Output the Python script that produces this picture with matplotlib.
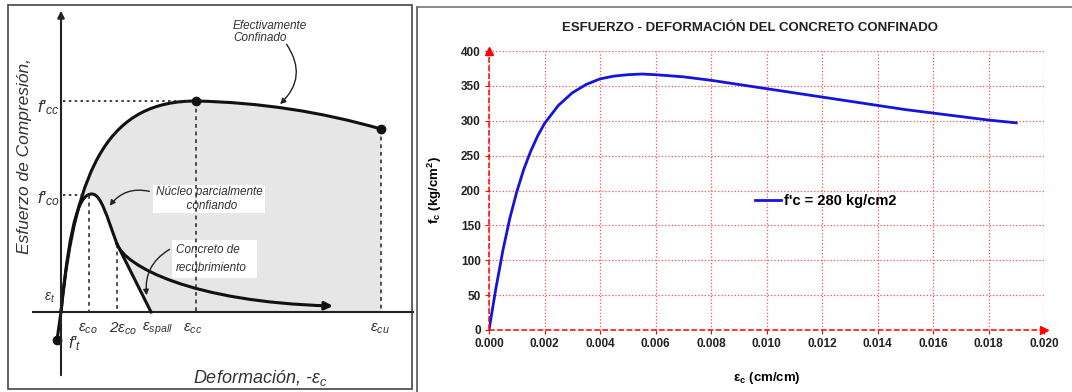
import matplotlib.pyplot as plt
from matplotlib.path import Path
from matplotlib.patches import PathPatch, FancyArrowPatch, Rectangle
from matplotlib.lines import Line2D

plt.rcParams['font.family'] = ['Liberation Sans', 'DejaVu Sans']
plt.rcParams['mathtext.fontset'] = 'custom'
plt.rcParams['mathtext.rm'] = 'Liberation Sans'
plt.rcParams['mathtext.it'] = 'Liberation Sans:italic'
plt.rcParams['mathtext.bf'] = 'Liberation Sans:bold'

# ---- right chart data ----
strain = [0.0, 0.00025, 0.0005, 0.00075, 0.001, 0.00125, 0.0015, 0.00175, 0.002,
          0.0025, 0.003, 0.0035, 0.004, 0.0045, 0.005, 0.0055, 0.006, 0.007, 0.008,
          0.009, 0.010, 0.011, 0.012, 0.013, 0.014, 0.015, 0.016, 0.017, 0.018, 0.019]
stress = [0, 60, 114, 160, 198, 230, 256, 278, 296,
          322, 340, 352, 360, 364, 366, 367, 366, 363, 358,
          352, 346, 340, 334, 328, 322, 316, 311, 306, 301, 297]
x_ticks = [0.000, 0.002, 0.004, 0.006, 0.008, 0.010, 0.012, 0.014, 0.016, 0.018, 0.020]
y_ticks = [0, 50, 100, 150, 200, 250, 300, 350, 400]
series_label = "f'c = 280 kg/cm2"
title = "ESFUERZO - DEFORMACIÓN DEL CONCRETO CONFINADO"

# ---- schematic key points (diagram units, origin at the axes cross) ----
ft_pt = (-4, -28)
fco_pt = (31, 118)
eco_x = 28
two_eco_pt = (56, 68)
spall_pt = (90, 0)
fcc_pt = (135, 211)
ecu_pt = (320, 183)
tail_end = (272, 6)

fig = plt.figure(figsize=(10.72, 3.92), dpi=100)

# ================= left: schematic =================
ax0 = fig.add_axes([0, 0, 418 / 1072, 1])
ax0.set_xlim(-61, 357)
ax0.set_ylim(-80, 312)
ax0.axis('off')

ax0.add_patch(Rectangle((-53, -77), 404, 384, fill=False, ec='#444444', lw=1.2))

M, C4, C3, L = Path.MOVETO, Path.CURVE4, Path.CURVE3, Path.LINETO
fill_verts = [(0, 0), (15, 150), (50, 211), fcc_pt, (230, 209), ecu_pt,
              (ecu_pt[0], 0), spall_pt, two_eco_pt, (46, 95), (40, 118), fco_pt,
              (20, 118), (10, 100), (0, 0), (0, 0)]
fill_codes = [M, C4, C4, C4, C3, C3, L, L, L, C4, C4, C4, C4, C4, C4, Path.CLOSEPOLY]
ax0.add_patch(PathPatch(Path(fill_verts, fill_codes), fc='#e6e6e6', ec='none'))

# axes of the diagram
ax0.plot([-28, 352], [0, 0], color='#222222', lw=1.5)
ax0.annotate('', xy=(0, 304), xytext=(0, -66),
             arrowprops=dict(arrowstyle='-|>', color='#222222', lw=1.5, mutation_scale=10))

# dotted guides
dot = dict(color='#222222', lw=1.2, ls=(0, (1.5, 2)))
ax0.plot([2, fcc_pt[0]], [fcc_pt[1], fcc_pt[1]], **dot)
ax0.plot([2, fco_pt[0]], [117, 117], **dot)
for xv, yv in [(eco_x, 117), (two_eco_pt[0], two_eco_pt[1]), fcc_pt, ecu_pt]:
    ax0.plot([xv, xv], [yv, 0], color='#222222', lw=1.1, ls=(0, (2.5, 2.5)))

# curves
ax0.plot([ft_pt[0], 0], [ft_pt[1], 0], color='#111111', lw=2.2)
conf = Path([(0, 0), (15, 150), (50, 211), fcc_pt, (230, 209), ecu_pt], [M, C4, C4, C4, C3, C3])
ax0.add_patch(PathPatch(conf, fc='none', ec='#111111', lw=2.2))
unconf = Path([(0, 0), (10, 100), (20, 118), fco_pt, (40, 118), (46, 95), two_eco_pt],
              [M, C4, C4, C4, C4, C4, C4])
ax0.add_patch(PathPatch(unconf, fc='none', ec='#111111', lw=2.2))
tail = Path([two_eco_pt, (64, 46), (130, 10), tail_end], [M, C4, C4, C4])
ax0.add_patch(FancyArrowPatch(path=tail, arrowstyle='-|>', color='#111111', lw=2.2,
                              mutation_scale=12))
ax0.plot([two_eco_pt[0], spall_pt[0]], [two_eco_pt[1], spall_pt[1]], color='#111111', lw=2.2)
ax0.plot([fcc_pt[0], ecu_pt[0], ft_pt[0]], [fcc_pt[1], ecu_pt[1], ft_pt[1]],
         'o', color='#111111', ms=6)

# labels
lab = dict(color='#333333', style='italic')
ax0.text(-24, 204, r"f'$_{cc}$", fontsize=12.5, ha='left', va='center', **lab)
ax0.text(-24, 113, r"f'$_{co}$", fontsize=12.5, ha='left', va='center', **lab)
ax0.text(-11, 14, r"ε$_t$", fontsize=10, ha='center', va='center', **lab)
ax0.text(14, -32, r"f'$_t$", fontsize=12, ha='center', va='center', **lab)
for xv, s in [(27, r"ε$_{co}$"), (62, r"2ε$_{co}$"), (97, r"ε$_{spall}$"),
              (132, r"ε$_{cc}$"), (319, r"ε$_{cu}$")]:
    ax0.text(xv, -17, s, fontsize=11, ha='center', va='center', **lab)
ax0.text(199, -66, r"Deformación, -ε$_c$", fontsize=13, ha='center', va='center', **lab)
ax0.text(-36, 156, "Esfuerzo de Compresión,", fontsize=12.5, rotation=90,
         ha='center', va='center', **lab)

ax0.text(172, 280, "Efectivamente\nConfinado", fontsize=8.5, ha='left', va='center',
         linespacing=1.1, **lab)
ax0.add_patch(FancyArrowPatch((224, 270), (217, 206), connectionstyle='arc3,rad=-0.45',
                              arrowstyle='-|>', mutation_scale=8, color='#222222', lw=1))

ax0.add_patch(Rectangle((92, 99), 112, 28, fc='white', ec='none'))
ax0.text(148, 113, "Núcleo parcialmente\n  confiando", fontsize=8.5, ha='center', va='center',
         linespacing=1.3, **lab)
ax0.add_patch(FancyArrowPatch((91, 120), (47, 104), connectionstyle='arc3,rad=0.35',
                              arrowstyle='-|>', mutation_scale=8, color='#222222', lw=1))

ax0.add_patch(Rectangle((111, 34), 85, 38, fc='white', ec='none'))
ax0.text(115, 53, "Concreto de\nrecubrimiento", fontsize=8.5, ha='left', va='center',
         linespacing=1.6, **lab)
ax0.add_patch(FancyArrowPatch((111, 64), (86, 14), connectionstyle='arc3,rad=0.35',
                              arrowstyle='-|>', mutation_scale=8, color='#222222', lw=1))

# panel frame lines on the right
fig.add_artist(Line2D([417 / 1072, 417 / 1072], [0, 385 / 392], color='#555555', lw=1.2))
fig.add_artist(Line2D([417 / 1072, 1], [385 / 392, 385 / 392], color='#777777', lw=1.2))

# ================= right: chart =================
ax = fig.add_axes([489 / 1072, 62 / 392, 555 / 1072, 279 / 392])
ax.plot(strain, stress, color='#1414dc', lw=2, label=series_label)
ax.set_xlim(0, 0.020)
ax.set_ylim(0, 400)
ax.set_xticks(x_ticks)
ax.set_yticks(y_ticks)
ax.set_xticklabels([f"{v:.3f}" for v in x_ticks])
ax.grid(True, color='#ff4d4d', ls=':', lw=0.9)
for s in ax.spines.values():
    s.set_visible(False)
ax.plot([0, 0], [0, 400], color='red', ls='--', lw=1.1, clip_on=False)
ax.plot([0, 0.020], [0, 0], color='red', ls='--', lw=1.1, clip_on=False)
ax.plot([0], [400], marker='^', color='red', ms=6, clip_on=False)
ax.plot([0.020], [0], marker='>', color='red', ms=6, clip_on=False)
ax.tick_params(length=3, color='red', labelsize=8.5, labelcolor='#222222', pad=3)
for t in ax.get_xticklabels() + ax.get_yticklabels():
    t.set_fontweight('bold')
ax.set_xlabel(r"ε$_\mathbf{c}$ (cm/cm)", fontsize=9.5, fontweight='bold', labelpad=14)
ax.set_ylabel(r"f$_\mathbf{c}$ (kg/cm$^\mathbf{2}$)", fontsize=9.5, fontweight='bold', labelpad=12)
ax.legend(loc='center left', bbox_to_anchor=(0.455, 0.462), frameon=False,
          handlelength=1.8, handletextpad=0.2, prop=dict(weight='bold', size=10.5))
fig.text(750 / 1072, 1 - 28 / 392, title, fontsize=9.5, fontweight='bold',
         ha='center', va='center', color='#222222')

fig.savefig('out.png', dpi=100)
